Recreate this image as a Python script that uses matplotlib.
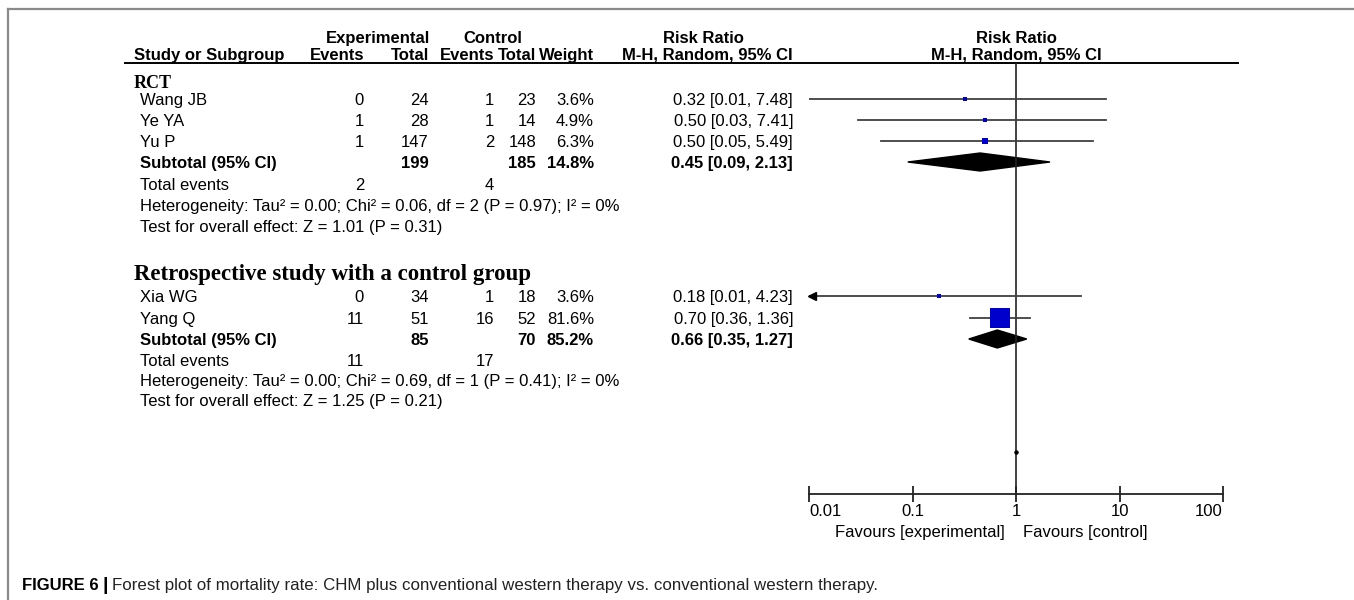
import matplotlib
matplotlib.use("Agg")
import matplotlib.pyplot as plt
from matplotlib import font_manager
from matplotlib.patches import Polygon

# condensed sans for the table, like the RevMan output
names = {f.name for f in font_manager.fontManager.ttflist}
narrow = 'Liberation Sans Narrow' if 'Liberation Sans Narrow' in names else 'Liberation Sans'

# ---- data ----
study = ['Wang JB', 'Ye YA', 'Yu P', 'Xia WG', 'Yang Q']
exp_events = [0, 1, 1, 0, 11]
exp_total = [24, 28, 147, 34, 51]
ctl_events = [1, 1, 2, 1, 16]
ctl_total = [23, 14, 148, 18, 52]
weight = [3.6, 4.9, 6.3, 3.6, 81.6]
rr = [0.32, 0.50, 0.50, 0.18, 0.70]
ci_lo = [0.01, 0.03, 0.05, 0.01, 0.36]
ci_hi = [7.48, 7.41, 5.49, 4.23, 1.36]

groups = ['RCT', 'Retrospective study with a control group']
sub_exp_total = [199, 85]
sub_ctl_total = [185, 70]
sub_weight = [14.8, 85.2]
sub_rr = [0.45, 0.66]
sub_lo = [0.09, 0.35]
sub_hi = [2.13, 1.27]
sub_exp_events = [2, 11]
sub_ctl_events = [4, 17]
heterogeneity = ['Heterogeneity: Tau² = 0.00; Chi² = 0.06, df = 2 (P = 0.97); I² = 0%',
                 'Heterogeneity: Tau² = 0.00; Chi² = 0.69, df = 1 (P = 0.41); I² = 0%']
overall = ['Test for overall effect: Z = 1.01 (P = 0.31)',
           'Test for overall effect: Z = 1.25 (P = 0.21)']
ticks = [0.01, 0.1, 1, 10, 100]
tick_labels = ['0.01', '0.1', '1', '10', '100']

# ---- layout (pixels, y from top) ----
W, H = 1354, 600
group_of = [0, 0, 0, 1, 1]
study_y = [99, 120, 141, 296, 318]
group_y = [81, 272]
sub_y = [162, 339]
tot_y = [184, 360]
het_y = [205, 380]
test_y = [226, 400]
col_ee, col_et, col_ce, col_ct, col_w, col_ci = 364, 429, 494, 536, 594, 793
fs = 12

fig = plt.figure(figsize=(W / 100, H / 100), dpi=100)
bg = fig.add_axes([0, 0, 1, 1])
bg.set_xlim(0, W)
bg.set_ylim(H, 0)
bg.axis('off')

# frame
bg.plot([8, W], [9, 9], color='#8a8a8a', lw=1.6)
bg.plot([8, 8], [9, H], color='#8a8a8a', lw=1.6)

def t(x, y, s, ha='left', bold=False, **kw):
    bg.text(x, y, s, ha=ha, va='center_baseline', fontsize=kw.pop('size', fs),
            family=kw.pop('family', narrow), fontweight='bold' if bold else 'normal', **kw)

# headers
t(378, 37, 'Experimental', ha='center', bold=True)
t(493, 37, 'Control', ha='center', bold=True)
t(703, 37, 'Risk Ratio', ha='center', bold=True)
t(1016, 37, 'Risk Ratio', ha='center', bold=True)
t(134, 54, 'Study or Subgroup', bold=True)
for x, s in [(col_ee, 'Events'), (col_et, 'Total'), (col_ce, 'Events'), (col_ct, 'Total'),
             (col_w, 'Weight'), (col_ci, 'M-H, Random, 95% CI')]:
    t(x, 54, s, ha='right', bold=True)
t(1016, 54, 'M-H, Random, 95% CI', ha='center', bold=True)
bg.plot([125, 1238], [63, 63], color='black', lw=1.4)

# study rows
for i in range(len(study)):
    y = study_y[i]
    t(140, y, study[i])
    t(col_ee, y, str(exp_events[i]), ha='right')
    t(col_et, y, str(exp_total[i]), ha='right')
    t(col_ce, y, str(ctl_events[i]), ha='right')
    t(col_ct, y, str(ctl_total[i]), ha='right')
    t(col_w, y, f'{weight[i]:.1f}%', ha='right')
    t(col_ci, y, f'{rr[i]:.2f} [{ci_lo[i]:.2f}, {ci_hi[i]:.2f}]', ha='right')

for g in range(len(groups)):
    t(134, group_y[g], groups[g], bold=True, family='Liberation Serif', size=13 if g == 0 else 16.5)
    y = sub_y[g]
    t(140, y, 'Subtotal (95% CI)', bold=True)
    t(col_et, y, str(sub_exp_total[g]), ha='right', bold=True)
    t(col_ct, y, str(sub_ctl_total[g]), ha='right', bold=True)
    t(col_w, y, f'{sub_weight[g]:.1f}%', ha='right', bold=True)
    t(col_ci, y, f'{sub_rr[g]:.2f} [{sub_lo[g]:.2f}, {sub_hi[g]:.2f}]', ha='right', bold=True)
    t(140, tot_y[g], 'Total events')
    t(col_ee, tot_y[g], str(sub_exp_events[g]), ha='right')
    t(col_ce, tot_y[g], str(sub_ctl_events[g]), ha='right')
    t(140, het_y[g], heterogeneity[g])
    t(140, test_y[g], overall[g])

# ---- forest panel ----
x0, x1, ytop, ybot = 809, 1223, 63, 494
ax = fig.add_axes([x0 / W, 1 - ybot / H, (x1 - x0) / W, (ybot - ytop) / H])
ax.set_xscale('log')
ax.set_xlim(0.01, 100)
ax.set_ylim(ybot, ytop)
ax.patch.set_alpha(0)
for s in ['top', 'left', 'right']:
    ax.spines[s].set_visible(False)
ax.spines['bottom'].set_linewidth(1.3)
ax.spines['bottom'].set_color('#222222')
ax.axvline(1, color='#222222', lw=1.2)

for i in range(len(study)):
    ax.plot([ci_lo[i], ci_hi[i]], [study_y[i]] * 2, color='#404040', lw=1.3)
    ax.scatter(rr[i], study_y[i], marker='s', s=weight[i] * 2.6, color='#0000cc',
               linewidths=0, zorder=3)
    if group_of[i] == 1 and ci_lo[i] <= 0.01:
        ax.plot(0.0106, study_y[i], marker='<', ms=5.5, color='black', clip_on=False)

for g in range(len(groups)):
    y = sub_y[g]
    ax.add_patch(Polygon([(sub_lo[g], y), (sub_rr[g], y - 9), (sub_hi[g], y), (sub_rr[g], y + 9)],
                         closed=True, color='black'))

ax.plot(1, 452, marker='o', ms=2.2, color='black')

ax.set_xticks(ticks)
ax.set_xticklabels(tick_labels, family=narrow, fontsize=fs)
labels = ax.get_xticklabels()
labels[0].set_ha('left')
labels[-1].set_ha('right')
ax.minorticks_off()
ax.tick_params(axis='x', direction='inout', length=11, width=1.3, pad=2, color='#222222')
ax.set_yticks([])

t(1005, 531, 'Favours [experimental]', ha='right')
t(1023, 531, 'Favours [control]')

# caption
fig.canvas.draw()
r = fig.canvas.get_renderer()
cap1 = bg.text(22, 584, 'FIGURE 6', ha='left', va='center_baseline', fontsize=12,
               family='Liberation Sans', fontweight='bold')
bb = cap1.get_window_extent(renderer=r)
bar = bg.text(bb.x1 + 4, 584, '|', ha='left', va='center_baseline', fontsize=14,
              family='Liberation Sans', fontweight='bold')
bb2 = bar.get_window_extent(renderer=r)
bg.text(bb2.x1 + 4, 584, 'Forest plot of mortality rate: CHM plus conventional western therapy vs. '
        'conventional western therapy.', ha='left', va='center_baseline', fontsize=12.2,
        family='Liberation Sans', color='#222222')

fig.savefig('out.png', dpi=100)
